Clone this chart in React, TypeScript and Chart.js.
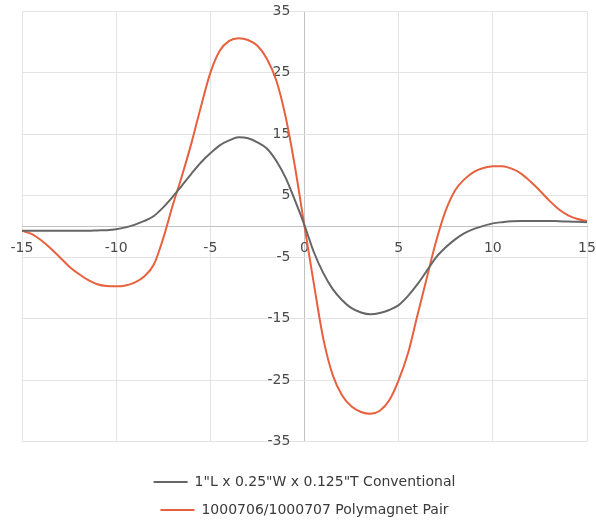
import React, { useEffect, useRef } from 'react';
import { Chart, registerables } from 'chart.js';

Chart.register(...registerables);

const xValues = [
  -15, -14.5, -14, -13.5, -13, -12.5, -12, -11.5, -11, -10.5,
  -10, -9.5, -9, -8.5, -8, -7.5, -7, -6.5, -6, -5.5,
  -5, -4.5, -4, -3.5, -3, -2.5, -2, -1.5, -1, -0.5,
  0, 0.5, 1, 1.5, 2, 2.5, 3, 3.5, 4, 4.5,
  5, 5.5, 6, 6.5, 7, 7.5, 8, 8.5, 9, 9.5,
  10, 10.5, 11, 11.5, 12, 12.5, 13, 13.5, 14, 14.5, 15,
];

const conventional = [
  -0.7, -0.7, -0.7, -0.7, -0.7, -0.7, -0.7, -0.7, -0.65, -0.6,
  -0.45, -0.15, 0.3, 0.9, 1.7, 3.1, 4.8, 6.7, 8.6, 10.4,
  11.9, 13.2, 14.0, 14.5, 14.35, 13.7, 12.7, 10.7, 7.9, 4.2,
  0.2, -4.2, -7.6, -10.2, -12.0, -13.3, -14.0, -14.3, -14.1, -13.6,
  -12.8, -11.3, -9.4, -7.2, -5.0, -3.4, -2.1, -1.1, -0.4, 0.1,
  0.5, 0.7, 0.85, 0.9, 0.9, 0.9, 0.9, 0.85, 0.8, 0.75, 0.7,
];

const polymagnet = [
  -0.7, -1.2, -2.2, -3.5, -5.0, -6.5, -7.7, -8.7, -9.4, -9.7,
  -9.75, -9.6, -9.1, -8.1, -6.2, -1.9, 3.4, 8.3, 13.6, 19.5,
  25.0, 28.6, 30.2, 30.65, 30.35, 29.4, 27.3, 23.8, 17.8, 9.6,
  0, -9.4, -18.3, -24.2, -27.5, -29.3, -30.2, -30.5, -30.0, -28.3,
  -25.0, -20.6, -14.4, -8.3, -2.3, 2.6, 5.9, 7.7, 8.9, 9.5,
  9.8, 9.8, 9.4, 8.6, 7.3, 5.8, 4.2, 2.8, 1.8, 1.2, 0.9,
];

const xTicks = [-15, -10, -5, 0, 5, 10, 15];
const yTicks = [-35, -25, -15, -5, 5, 15, 25, 35];

const seriesLabels = [
  '1"L x 0.25"W x 0.125"T Conventional',
  '1000706/1000707 Polymagnet Pair',
];

const GRAY = '#666666';
const ORANGE = '#e8613f';
const GRID = '#e4e4e4';
const AXIS = '#c2c2c2';
const TEXT = '#4a4a4a';
const FONT = { family: '"DejaVu Sans", Verdana, sans-serif', size: 14 };

export default function App() {
  const canvasRef = useRef<HTMLCanvasElement | null>(null);

  useEffect(() => {
    const canvas = canvasRef.current;
    if (!canvas) return;
    const chart = new Chart(canvas, {
      type: 'line',
      data: {
        datasets: [
          {
            label: seriesLabels[0],
            data: xValues.map((x, i) => ({ x, y: conventional[i] })),
            borderColor: GRAY,
            backgroundColor: GRAY,
            borderWidth: 2,
            pointRadius: 0,
            cubicInterpolationMode: 'monotone',
            fill: false,
          },
          {
            label: seriesLabels[1],
            data: xValues.map((x, i) => ({ x, y: polymagnet[i] })),
            borderColor: ORANGE,
            backgroundColor: ORANGE,
            borderWidth: 2,
            pointRadius: 0,
            cubicInterpolationMode: 'monotone',
            fill: false,
          },
        ],
      },
      options: {
        responsive: false,
        animation: false,
        layout: { padding: { left: 22, right: 9, top: 10, bottom: 0 } },
        plugins: {
          tooltip: { enabled: false },
          legend: {
            position: 'bottom',
            maxWidth: 330,
            title: {
              display: true,
              text: '',
              padding: 0,
              font: { size: 10, lineHeight: 1.95 },
            },
            labels: {
              usePointStyle: true,
              pointStyle: 'line',
              pointStyleWidth: 34,
              padding: 14,
              color: '#3a3a3a',
              font: FONT,
            },
          },
        },
        scales: {
          x: {
            type: 'linear',
            position: { y: 0 },
            min: -15,
            max: 15,
            afterBuildTicks: (s: any) => {
              s.ticks = xTicks.map((v) => ({ value: v }));
            },
            afterFit: (s: any) => {
              s.paddingLeft = 0;
              s.paddingRight = 0;
            },
            grid: {
              drawTicks: false,
              color: (ctx: any) => (ctx.tick && ctx.tick.value === 0 ? AXIS : GRID),
            },
            border: { display: true, color: AXIS, width: 1 },
            ticks: {
              padding: 14,
              color: TEXT,
              font: FONT,
              maxRotation: 0,
              autoSkip: false,
            },
          },
          y: {
            type: 'linear',
            position: { x: -0.75 },
            min: -35,
            max: 35,
            afterBuildTicks: (s: any) => {
              s.ticks = yTicks.map((v) => ({ value: v }));
            },
            grid: { drawTicks: false, color: GRID },
            border: { display: false },
            ticks: { color: TEXT, font: FONT, autoSkip: false },
          },
        },
      },
    } as any);
    return () => chart.destroy();
  }, []);

  return (
    <div
      style={{
        position: 'fixed',
        left: 0,
        top: 0,
        width: 596,
        height: 522,
        overflow: 'hidden',
        background: '#ffffff',
      }}
    >
      <canvas ref={canvasRef} width={596} height={527} style={{ display: 'block' }} />
    </div>
  );
}
